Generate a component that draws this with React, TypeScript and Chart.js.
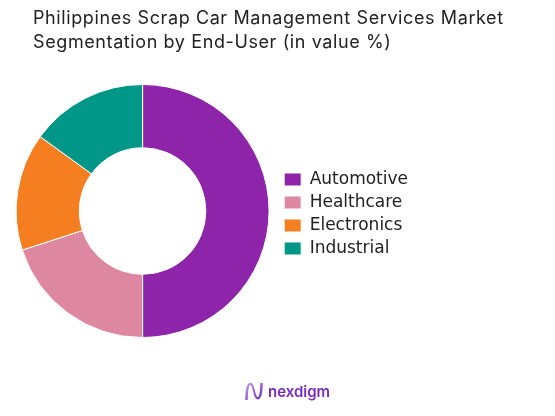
import React, { useEffect, useRef } from "react";
import { Chart, registerables } from "chart.js";

Chart.register(...registerables);

const categories = ["Automotive", "Healthcare", "Electronics", "Industrial"];
const values = [50, 20, 15, 15];
const colors = ["#8E24AA", "#DE87A1", "#F57F20", "#009688"];
const titleLines = [
  "Philippines Scrap Car Management Services Market",
  "Segmentation by End-User (in value %)",
];
const brand = "nexdigm";

const FONT = "Inter, 'Open Sans', sans-serif";
const LEGEND_FONT = "'DejaVu Sans', sans-serif";

const overlay = {
  id: "overlay",
  afterDraw(chart: any) {
    const ctx = chart.ctx as CanvasRenderingContext2D;
    ctx.save();
    ctx.fillStyle = "#222222";
    ctx.font = `400 18px ${FONT}`;
    (ctx as any).letterSpacing = "0.6px";
    ctx.textAlign = "left";
    ctx.textBaseline = "alphabetic";
    ctx.fillText(titleLines[0], 33, 23.5);
    ctx.fillText(titleLines[1], 33, 48);
    (ctx as any).letterSpacing = "0px";

    // logo icon
    const grad = ctx.createLinearGradient(245, 383, 262, 401);
    grad.addColorStop(0, "#C7A2F0");
    grad.addColorStop(1, "#6A1FB8");
    ctx.strokeStyle = grad;
    ctx.lineWidth = 1.6;
    for (let k = 0; k < 2; k++) {
      ctx.beginPath();
      ctx.moveTo(246 + k, 400);
      ctx.bezierCurveTo(246 + k, 380, 252, 380, 254, 391);
      ctx.bezierCurveTo(256, 402, 262 - k, 402, 262 - k, 383);
      ctx.stroke();
    }
    ctx.fillStyle = "#7A2CC0";
    ctx.font = `600 15px ${FONT}`;
    ctx.fillText(brand, 268, 397);
    ctx.restore();
  },
};

export default function App() {
  const ref = useRef<HTMLCanvasElement | null>(null);
  useEffect(() => {
    document.body.style.margin = "0";
    if (!ref.current) return;
    const chart = new Chart(ref.current, {
      type: "doughnut",
      data: {
        labels: categories,
        datasets: [
          {
            data: values,
            backgroundColor: colors,
            borderColor: "#ffffff",
            borderWidth: 1,
          },
        ],
      },
      options: {
        responsive: false,
        animation: false,
        cutout: "50%",
        layout: { padding: { top: 84, bottom: 78, left: 7, right: 137 } },
        plugins: {
          title: { display: false },
          tooltip: { enabled: false },
          legend: {
            position: "right",
            title: { display: true, text: " ", padding: 0, font: { size: 5 } },
            labels: {
              boxWidth: 17,
              boxHeight: 13,
              padding: 6,
              color: "#222222",
              font: { family: LEGEND_FONT, size: 17 },
            },
          },
        },
      },
      plugins: [overlay],
    });
    return () => chart.destroy();
  }, []);
  return (
    <div style={{ width: 555, height: 416, background: "#fff" }}>
      <canvas ref={ref} width={555} height={416} />
    </div>
  );
}
